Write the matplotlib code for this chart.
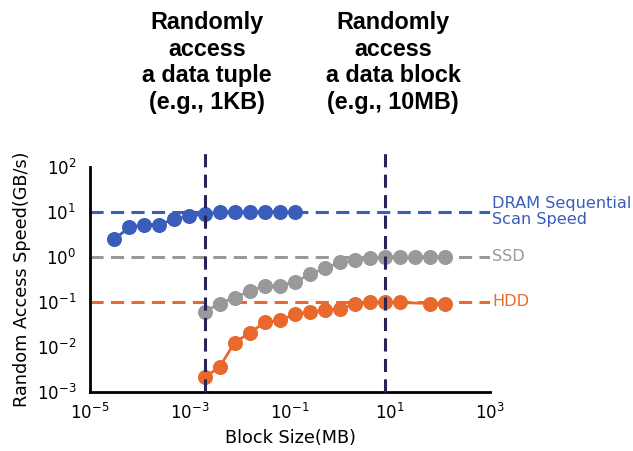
import numpy as np
import matplotlib
matplotlib.use('Agg')
from matplotlib import pyplot as plt
from matplotlib import font_manager as fm
from matplotlib.ticker import FixedLocator, NullLocator

# block sizes are powers of two (MB)
dram_x = 2.0 ** np.arange(-15, -2)
dram_y = [2.45, 4.5, 5.2, 5.2, 6.9, 8.0, 8.9, 10, 10, 10, 10, 10, 10]

ssd_x = 2.0 ** np.arange(-9, 8)
ssd_y = [0.06, 0.092, 0.125, 0.173, 0.227, 0.227, 0.278, 0.406, 0.56, 0.75,
         0.845, 0.95, 1.0, 1.0, 1.0, 1.0, 1.0]

hdd_x = 2.0 ** np.array([-9, -8, -7, -6, -5, -4, -3, -2, -1, 0, 1, 2, 3, 4, 6, 7])
hdd_y = [0.0021, 0.0036, 0.0125, 0.0205, 0.035, 0.039, 0.053, 0.06, 0.065,
         0.069, 0.092, 0.097, 0.1, 0.097, 0.092, 0.092]

ref_levels = [10, 1, 0.1]
ref_labels = ['DRAM Sequential\nScan Speed', 'SSD', 'HDD']
tuple_size = 2.0 ** -9
block_size = 2.0 ** 3
xticks = [1e-5, 1e-3, 1e-1, 1e1, 1e3]
titles = ['Randomly\naccess\na data tuple\n(e.g., 1KB)',
          'Randomly\naccess\na data block\n(e.g., 10MB)']

blue = '#3a5cbb'
gray = '#999999'
orange = '#e8692b'
navy = '#28245a'
clrs = [blue, gray, orange]

# regular-width bold Liberation Sans (avoid the Narrow variant)
bold_font = None
for f in fm.fontManager.ttflist:
    if f.name == 'Liberation Sans' and f.weight in (700, 'bold') and f.style == 'normal':
        bold_font = fm.FontProperties(fname=f.fname, size=16.8)
        break
if bold_font is None:
    bold_font = fm.FontProperties(family='DejaVu Sans', weight='bold', size=15)

fig = plt.figure(figsize=(6.33, 4.51), dpi=100)
ax = fig.add_axes([90 / 633, 1 - 392 / 451, 400 / 633, 225.3 / 451])

for lvl, c in zip(ref_levels, clrs):
    ax.axhline(lvl, color=c, lw=2.2, dashes=(4.3, 2.4), zorder=1)

for xs, ys, c in [(dram_x, dram_y, blue), (ssd_x, ssd_y, gray), (hdd_x, hdd_y, orange)]:
    ax.plot(xs, ys, '-o', color=c, lw=2, ms=9.8, zorder=3)

for xv in [tuple_size, block_size]:
    ax.axvline(xv, ymin=0, ymax=1.08, color=navy, lw=2.2, dashes=(4.3, 2.4),
               clip_on=False, zorder=4)

ax.set_xscale('log')
ax.set_yscale('log')
ax.set_xlim(1e-5, 1e3)
ax.set_ylim(1e-3, 1e2)
ax.xaxis.set_major_locator(FixedLocator(xticks))
ax.xaxis.set_minor_locator(NullLocator())
ax.yaxis.set_minor_locator(NullLocator())
ax.tick_params(length=0, labelsize=12)
ax.tick_params(axis='x', pad=8)
ax.tick_params(axis='y', pad=10)
for s in ['top', 'right']:
    ax.spines[s].set_visible(False)
for s in ['left', 'bottom']:
    ax.spines[s].set_linewidth(2)

ax.set_xlabel('Block Size(MB)', fontsize=12.7, labelpad=4)
ax.set_ylabel('Random Access Speed(GB/s)', fontsize=12.7, labelpad=4)

for lvl, lab, c in zip(ref_levels, ref_labels, clrs):
    ax.text(1.005, lvl, lab, color=c, fontsize=11.6, va='center', ha='left',
            linespacing=1.1, transform=ax.get_yaxis_transform())

for xf, t in zip([207 / 633, 393 / 633], titles):
    fig.text(xf, 1 - 11 / 451, t, ha='center', va='top', fontproperties=bold_font,
             linespacing=1.2)

fig.savefig('out.png', dpi=100)
